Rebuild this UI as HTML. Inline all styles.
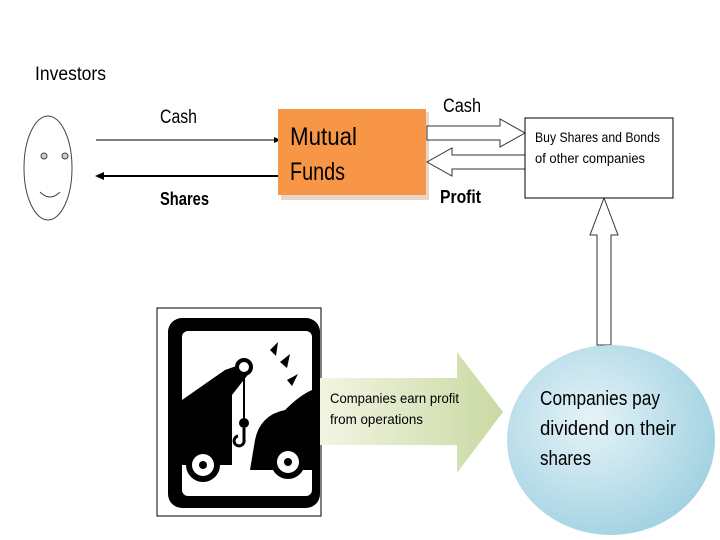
<!DOCTYPE html>
<html><head><style>body{margin:0;background:#fff}svg{display:block}text{font-family:"Liberation Sans Narrow","Liberation Sans",sans-serif}</style></head>
<body>
<svg width="720" height="540" viewBox="0 0 720 540" xmlns="http://www.w3.org/2000/svg">
<defs>
<linearGradient id="g" x1="0" y1="0" x2="1" y2="0"><stop offset="0" stop-color="#f2f5e2"/><stop offset="1" stop-color="#c9d9a3"/></linearGradient>
<radialGradient id="c" cx="0.4" cy="0.4" r="0.7"><stop offset="0" stop-color="#e6f3f8"/><stop offset="1" stop-color="#9ccfe0"/></radialGradient>
</defs>
<text x="35" y="80" font-size="19" textLength="71" lengthAdjust="spacingAndGlyphs">Investors</text>
<ellipse cx="48" cy="168" rx="24" ry="52" fill="#fff" stroke="#444" stroke-width="1"/>
<circle cx="44" cy="156" r="3" fill="#ccc" stroke="#444"/>
<circle cx="65" cy="156" r="3" fill="#ccc" stroke="#444"/>
<path d="M40 192 Q50 202 60 192" fill="none" stroke="#444"/>
<text x="160" y="123" font-size="19" textLength="37" lengthAdjust="spacingAndGlyphs">Cash</text>
<line x1="96" y1="140" x2="276" y2="140" stroke="#000" stroke-width="1"/>
<polygon points="281,140 274,137 274,143" fill="#000"/>
<line x1="102" y1="176" x2="278" y2="176" stroke="#000" stroke-width="2"/>
<polygon points="95,176 104,172 104,180" fill="#000"/>
<text x="160" y="205" font-size="18" font-weight="bold" textLength="49" lengthAdjust="spacingAndGlyphs">Shares</text>
<rect x="281" y="112" width="148" height="88" fill="#e8d6c8"/>
<rect x="278" y="109" width="148" height="86" fill="#f79646"/>
<text x="290" y="145" font-size="25" textLength="67" lengthAdjust="spacingAndGlyphs">Mutual</text>
<text x="290" y="180" font-size="25" textLength="55" lengthAdjust="spacingAndGlyphs">Funds</text>
<text x="443" y="112" font-size="19" textLength="38" lengthAdjust="spacingAndGlyphs">Cash</text>
<polygon points="427,126 500,126 500,119 525,133 500,147 500,140 427,140" fill="#fff" stroke="#333"/>
<polygon points="525,155 452,155 452,148 427,162 452,176 452,169 525,169" fill="#fff" stroke="#333"/>
<text x="440" y="203" font-size="18" font-weight="bold" textLength="41" lengthAdjust="spacingAndGlyphs">Profit</text>
<rect x="525" y="118" width="148" height="80" fill="#fff" stroke="#000"/>
<text x="535" y="142" font-size="14" textLength="125" lengthAdjust="spacingAndGlyphs">Buy Shares and Bonds</text>
<text x="535" y="163" font-size="14" textLength="110" lengthAdjust="spacingAndGlyphs">of other companies</text>
<polygon points="597,345 597,235 590,235 604,198 618,235 611,235 611,345" fill="#fff" stroke="#333"/>
<rect x="157" y="308" width="164" height="208" fill="#fff" stroke="#000"/>
<rect x="168" y="318" width="152" height="190" rx="14" fill="#000"/>
<rect x="182" y="331" width="130" height="165" rx="6" fill="#fff"/>
<polygon points="182,400 225,370 245,363 250,372 232,395 232,465 182,465" fill="#000"/>
<circle cx="244" cy="367" r="7" fill="#fff" stroke="#000" stroke-width="4"/>
<line x1="244" y1="372" x2="244" y2="420" stroke="#000" stroke-width="2"/>
<circle cx="244" cy="423" r="5" fill="#000"/>
<path d="M244 428 v12 a5 5 0 1 1 -6 -4" fill="none" stroke="#000" stroke-width="3"/>
<path d="M255 440 Q260 415 285 410 Q300 395 312 390 L312 470 L250 470 Z" fill="#000"/>
<circle cx="203" cy="465" r="17" fill="#000"/><circle cx="203" cy="465" r="11" fill="#fff"/><circle cx="203" cy="465" r="4" fill="#000"/>
<circle cx="288" cy="462" r="17" fill="#000"/><circle cx="288" cy="462" r="11" fill="#fff"/><circle cx="288" cy="462" r="4" fill="#000"/>
<polygon points="270,350 278,342 276,356" fill="#000"/>
<polygon points="280,362 290,354 287,368" fill="#000"/>
<polygon points="287,380 298,374 292,386" fill="#000"/>
<polygon points="320,378 457,378 457,352 503,412 457,473 457,445 320,445" fill="url(#g)"/>
<text x="330" y="403" font-size="14" textLength="129" lengthAdjust="spacingAndGlyphs">Companies earn profit</text>
<text x="330" y="424" font-size="14" textLength="93" lengthAdjust="spacingAndGlyphs">from operations</text>
<ellipse cx="611" cy="440" rx="104" ry="95" fill="url(#c)"/>
<text x="540" y="405" font-size="20" textLength="120" lengthAdjust="spacingAndGlyphs">Companies pay</text>
<text x="540" y="435" font-size="20" textLength="136" lengthAdjust="spacingAndGlyphs">dividend on their</text>
<text x="540" y="465" font-size="20" textLength="51" lengthAdjust="spacingAndGlyphs">shares</text>
</svg>
</body></html>
